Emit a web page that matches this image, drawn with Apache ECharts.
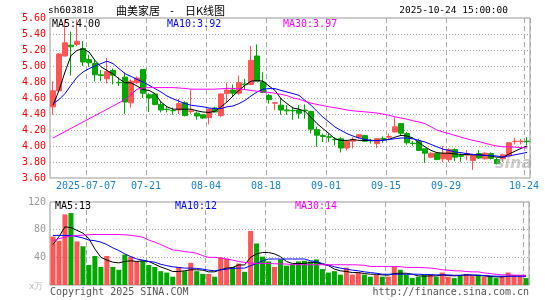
<!DOCTYPE html>
<html><head><meta charset="utf-8">
<script src="https://cdn.jsdelivr.net/npm/echarts@6/dist/echarts.min.js"></script>
<style>html,body{margin:0;padding:0;background:#fff}#c{width:545px;height:300px}</style>
</head><body><div id="c"></div>
<script>
const dates = ['06-27','06-30','07-01','07-02','07-03','07-04','07-07','07-08','07-09','07-10','07-11','07-14','07-15','07-16','07-17','07-18','07-21','07-22','07-23','07-24','07-25','07-28','07-29','07-30','07-31','08-01','08-04','08-05','08-06','08-07','08-08','08-11','08-12','08-13','08-14','08-15','08-18','08-19','08-20','08-21','08-22','08-25','08-26','08-27','08-28','08-29','09-01','09-02','09-03','09-04','09-05','09-08','09-09','09-10','09-11','09-12','09-15','09-16','09-17','09-18','09-19','09-22','09-23','09-24','09-25','09-26','09-29','09-30','10-09','10-10','10-13','10-14','10-15','10-16','10-17','10-20','10-21','10-22','10-23','10-24'];
const tickIdx = [6,16,26,36,46,56,66,79];
const tickText = ['2025-07-07','07-21','08-04','08-18','09-01','09-15','09-29','10-24'];

const opens  = [4.49,4.69,5.125,5.26,5.27,5.22,5.08,5.03,4.89,4.84,4.945,4.795,4.86,4.54,4.79,4.955,4.64,4.65,4.52,4.46,4.445,4.45,4.54,4.43,4.41,4.39,4.355,4.475,4.38,4.655,4.70,4.66,4.775,4.77,5.125,4.80,4.63,4.535,4.51,4.45,4.445,4.45,4.45,4.43,4.205,4.13,4.115,4.085,4.09,3.975,4.06,4.11,4.13,4.07,4.03,4.095,4.11,4.175,4.28,4.155,4.035,4.06,3.965,3.86,3.91,3.84,3.83,3.955,3.88,3.885,3.82,3.905,3.84,3.905,3.83,3.84,3.875,4.055,4.055,4.06];
const closes = [4.69,5.15,5.29,5.24,5.31,5.05,5.04,4.89,4.88,4.93,4.885,4.79,4.55,4.81,4.85,4.66,4.60,4.52,4.45,4.455,4.44,4.53,4.38,4.44,4.375,4.35,4.46,4.425,4.65,4.70,4.66,4.79,4.765,5.07,4.81,4.67,4.58,4.54,4.45,4.44,4.44,4.41,4.44,4.21,4.135,4.12,4.11,4.08,3.975,4.06,4.08,4.14,4.06,4.065,4.09,4.09,4.12,4.24,4.16,4.04,4.03,3.945,3.91,3.91,3.83,3.91,3.955,3.86,3.87,3.905,3.89,3.85,3.91,3.845,3.78,3.89,4.04,4.06,4.06,4.055];
const highs  = [4.81,5.16,5.58,5.43,5.58,5.31,5.14,5.08,4.95,5.10,4.97,4.86,4.92,4.83,4.87,4.96,4.66,4.66,4.55,4.49,4.48,4.59,4.56,4.70,4.43,4.40,4.47,4.49,4.66,4.79,4.77,4.88,4.84,5.25,5.27,4.92,4.65,4.545,4.60,4.51,4.49,4.51,4.52,4.44,4.24,4.155,4.155,4.11,4.11,4.07,4.11,4.15,4.14,4.09,4.095,4.12,4.155,4.36,4.28,4.175,4.06,4.09,3.97,3.92,3.925,4.00,3.97,3.97,3.905,3.95,3.89,3.95,3.925,3.92,3.85,3.905,4.05,4.10,4.09,4.11];
const lows   = [4.39,4.68,5.12,4.88,5.25,5.00,4.99,4.81,4.81,4.78,4.77,4.75,4.40,4.48,4.78,4.60,4.425,4.51,4.42,4.42,4.39,4.40,4.37,4.40,4.33,4.34,4.27,4.42,4.36,4.55,4.62,4.64,4.70,4.76,4.80,4.66,4.53,4.45,4.39,4.39,4.33,4.34,4.34,4.155,3.99,4.05,4.05,4.01,3.92,3.945,3.97,4.09,4.05,4.03,3.975,4.04,4.07,4.17,4.13,4.015,4.00,3.94,3.79,3.855,3.825,3.80,3.80,3.81,3.80,3.82,3.70,3.84,3.83,3.83,3.77,3.80,3.86,4.02,4.02,4.01];

const ma5  = [4.51,4.695,4.925,5.13,5.195,5.215,5.175,5.07,4.99,4.945,4.90,4.84,4.79,4.79,4.75,4.705,4.695,4.655,4.55,4.49,4.46,4.46,4.46,4.46,4.44,4.425,4.42,4.433,4.49,4.55,4.625,4.695,4.76,4.81,4.82,4.81,4.75,4.695,4.59,4.53,4.475,4.46,4.433,4.36,4.28,4.217,4.155,4.09,4.07,4.07,4.08,4.07,4.07,4.07,4.07,4.075,4.083,4.11,4.133,4.125,4.10,4.04,3.99,3.945,3.917,3.91,3.91,3.90,3.895,3.895,3.89,3.89,3.883,3.875,3.86,3.86,3.90,3.935,3.97,4.00];
const ma10 = [4.53,4.58,4.655,4.76,4.86,4.925,4.967,5.0,5.03,5.06,5.03,4.967,4.905,4.87,4.833,4.80,4.76,4.717,4.675,4.625,4.59,4.56,4.53,4.51,4.50,4.49,4.475,4.467,4.467,4.49,4.50,4.53,4.57,4.625,4.675,4.71,4.717,4.717,4.695,4.675,4.655,4.633,4.57,4.51,4.433,4.36,4.30,4.237,4.195,4.155,4.125,4.10,4.083,4.07,4.065,4.07,4.083,4.09,4.10,4.10,4.09,4.07,4.05,4.02,3.99,3.96,3.945,3.925,3.917,3.904,3.895,3.89,3.883,3.88,3.875,3.86,3.875,3.89,3.905,3.92];
const ma30 = [4.10,4.14,4.18,4.22,4.26,4.30,4.34,4.38,4.42,4.46,4.50,4.54,4.58,4.64,4.71,4.725,4.73,4.73,4.73,4.73,4.73,4.725,4.72,4.71,4.71,4.71,4.71,4.71,4.715,4.72,4.72,4.715,4.705,4.695,4.685,4.675,4.67,4.66,4.645,4.63,4.60,4.585,4.56,4.535,4.52,4.505,4.49,4.478,4.465,4.45,4.44,4.433,4.427,4.42,4.412,4.40,4.385,4.365,4.35,4.335,4.315,4.30,4.28,4.24,4.20,4.175,4.155,4.133,4.11,4.09,4.07,4.055,4.035,4.015,4.00,3.99,3.99,3.985,3.98,3.975];

const vols  = [70,64,102,104,63,56,29,42,26,42,26,22,44,41,34,35,29,26,20,18,12,26,20,32,20,16,16,12,40,38,26,31,19,78,60,41,34,26,37,28,30,34,35,34,37,23,18,20,15,25,15,18,15,12,15,12,12,26,22,15,10,12,15,15,12,18,12,10,13,16,13,15,12,12,10,12,18,13,13,10];
const vma5  = [58.5,70,84,83,79,75,67,52,40,36,33,32,34,35,34,35,34,30,26,23,19.5,19.5,20.5,22,22,21.5,19,19,22,24.4,25.4,29,29,40,45,47,47,45,41,34,31,31,31,32.7,32.7,30,28,23,20.5,19.5,18,18,16.6,15.6,15.6,14.6,14.2,16.6,17,17,15.6,13.2,12.7,13.2,13.2,14.6,13.7,13.2,13.7,14.6,14.1,13.7,13.2,12.2,11.7,11.7,12.7,13.2,13.6,13.2];
const vma10 = [71.7,71.7,71.7,71.7,70,68,65,64,62,58.5,53.7,49.8,45,41,37.6,36,34,33,30,28,26.3,25.4,24.4,24.4,24,23,21.5,20.5,22,23,24,24.4,24.4,27.8,31,35,37.6,37.6,37.6,37.6,37.6,37.6,37.6,35,34,31,29,26.3,24.4,23,21.5,20.5,19,18,17,15.6,15.6,15.6,15.6,15.6,15.6,15.6,15.1,15.1,14.6,14.6,14.6,14.1,14.1,14.6,14.6,14.1,13.7,13.2,12.7,12.7,12.7,12.7,12.7,12.5];
const vma30 = [64,67,69,70.7,71.7,72,72.7,73,73,73,73,73,72.7,71.7,70.7,69,65,62,58.5,54.6,50.7,49.8,48.3,47.3,45.9,42.4,40,40,39,37.6,36,34,32.7,31.7,31.2,31.2,31,30.7,30.7,30.2,29.5,29.3,29.3,29.3,29.3,29.3,29.3,29.3,29.3,29.3,29.3,29,28.5,26.8,26.8,26.8,26.8,26.8,26.5,25.4,25.4,25.4,25,24.5,23.5,22,21.5,20.5,20.5,19.5,19,19,17.5,16.6,15.5,14.6,14.6,14.3,14.1,14.1];

const UP = '#ff5555', DOWN = '#00a800';
const MONO = '"DejaVu Sans Mono","Liberation Mono",monospace';
const GRIDC = '#999';

const chart = echarts.init(document.getElementById('c'), null, {renderer:'canvas'});
const showTick = (i) => tickIdx.indexOf(i) >= 0;
const xBase = (gi, withLabel) => ({
  type:'category', gridIndex:gi, data:dates, boundaryGap:true,
  axisLine:{show:false}, axisTick:{show:false},
  axisLabel:{show:withLabel, interval:(i)=>showTick(i), margin:3,
    formatter:(v,i)=>'{a|'+tickText[tickIdx.indexOf(i)]+'}',
    rich:{a:{color:'#1a82d0', fontFamily:MONO, fontSize:10, padding:[0,6,0,0]}}},
  splitLine:{show:true, interval:(i)=>showTick(i), lineStyle:{color:'#aaa', type:[5,3], width:1}}
});
const line = (data, color, xi, yi) => ({type:'line', data, xAxisIndex:xi, yAxisIndex:yi, symbol:'none', silent:true,
  lineStyle:{color, width:1}, itemStyle:{color}, z:5});

chart.setOption({
  animation:false,
  grid:[
    {left:50, top:18, width:480, height:160, show:true, borderColor:GRIDC, borderWidth:1, backgroundColor:'transparent'},
    {left:50, top:202, width:479, height:83, show:true, borderColor:GRIDC, borderWidth:1, backgroundColor:'transparent'}
  ],
  xAxis:[xBase(0,true), xBase(1,false)],
  yAxis:[
    {type:'value', gridIndex:0, min:3.6, max:5.6, interval:0.2,
     axisLine:{show:false}, axisTick:{show:false},
     axisLabel:{color:'#ff0000', fontFamily:MONO, fontSize:10, margin:4, formatter:(v)=>v.toFixed(2)},
     splitLine:{show:true, showMinLine:false, showMaxLine:false, lineStyle:{color:'#aaa', type:[1,2]}}},
    {type:'value', gridIndex:1, min:0, max:120, interval:40,
     axisLine:{show:false}, axisTick:{show:false},
     axisLabel:{color:'#999', fontFamily:MONO, fontSize:10, margin:4, formatter:(v)=>v===0?'':String(v)},
     splitLine:{show:true, showMinLine:false, showMaxLine:false, lineStyle:{color:'#aaa', type:[1,2]}}}
  ],
  series:[
    {type:'candlestick', xAxisIndex:0, yAxisIndex:0, barWidth:5,
     data: opens.map((o,i)=>[o, closes[i], lows[i], highs[i]]),
     itemStyle:{color:UP, color0:DOWN, borderColor:UP, borderColor0:DOWN, borderWidth:1}},
    line(ma5,'#000000',0,0), line(ma10,'#0000ff',0,0), line(ma30,'#ff00ff',0,0),
    {type:'bar', xAxisIndex:1, yAxisIndex:1, barWidth:5,
     data: vols.map((v,i)=>({value:v, itemStyle:{color: closes[i]>=opens[i]?UP:DOWN}}))},
    line(vma5,'#000000',1,1), line(vma10,'#0000ff',1,1), line(vma30,'#ff00ff',1,1)
  ],
  graphic:[
    {type:'text', x:48, y:11, style:{text:'sh603818', fill:'#000', font:'9.5px '+MONO, verticalAlign:'middle', align:'left'}},
    {type:'text', x:116, y:11, style:{text:'曲美家居', fill:'#000', font:'11px "Noto Sans CJK SC"', verticalAlign:'middle', align:'left'}},
    {type:'text', x:169, y:11, style:{text:'-', fill:'#000', font:'10px '+MONO, verticalAlign:'middle', align:'left'}},
    {type:'text', x:185, y:11, style:{text:'日K线图', fill:'#000', font:'11px "Noto Sans CJK SC"', verticalAlign:'middle', align:'left'}},
    {type:'text', x:508, y:11, style:{text:'2025-10-24 15:00:00', fill:'#000', font:'9.5px '+MONO, verticalAlign:'middle', align:'right'}},
    {type:'text', x:52, y:24, z:10, style:{text:'MA5:4.00', fill:'#000', font:'10px '+MONO, verticalAlign:'middle', align:'left'}},
    {type:'text', x:167, y:24, z:10, style:{text:'MA10:3.92', fill:'#0000ff', font:'10px '+MONO, verticalAlign:'middle', align:'left'}},
    {type:'text', x:283, y:24, z:10, style:{text:'MA30:3.97', fill:'#ff00ff', font:'10px '+MONO, verticalAlign:'middle', align:'left'}},
    {type:'text', x:55, y:206, z:10, style:{text:'MA5:13', fill:'#000', font:'10px '+MONO, verticalAlign:'middle', align:'left'}},
    {type:'text', x:175, y:206, z:10, style:{text:'MA10:12', fill:'#0000ff', font:'10px '+MONO, verticalAlign:'middle', align:'left'}},
    {type:'text', x:295, y:206, z:10, style:{text:'MA30:14', fill:'#ff00ff', font:'10px '+MONO, verticalAlign:'middle', align:'left'}},
    {type:'text', x:29, y:287, style:{text:'x万', fill:'#bbb', font:'9px '+MONO, verticalAlign:'middle', align:'left'}},
    {type:'text', x:50, y:292, style:{text:'Copyright 2025 SINA.COM', fill:'#555', font:'10px '+MONO, verticalAlign:'middle', align:'left'}},
    {type:'text', x:529, y:292, style:{text:'http://finance.sina.com.cn', fill:'#555', font:'10px '+MONO, verticalAlign:'middle', align:'right'}},
    {type:'text', x:495, y:164, z:20, style:{text:'sina', fill:'rgba(160,160,160,0.55)', font:'italic bold 16px "DejaVu Sans"', verticalAlign:'middle', align:'left'}}
  ]
});
</script></body></html>
